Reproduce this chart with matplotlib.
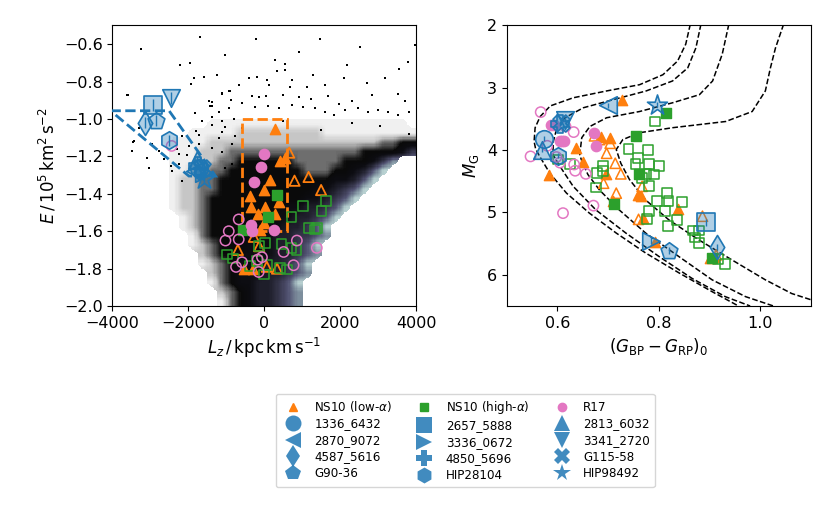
import numpy as np
import matplotlib
matplotlib.use("Agg")
import matplotlib.pyplot as plt
from matplotlib.colors import LinearSegmentedColormap, Normalize
from matplotlib.lines import Line2D
from matplotlib.patches import Polygon, Rectangle

# --- background density of the halo sample, read off as levels per cell ---
# columns: Lz centres -3875 .. 3875 (step 250), rows: E centres -0.525 .. -1.975 (step 0.05)
# '.' empty, 1-4 speckle (sparse -> dense black), 5-9,a bone shades
dens_rows = [
    "........|........|........|........",
    "........|........|........|........",
    "........|........|........|........",
    "........|........|........|........",
    "........|........|........|........",
    "........|........|........|........",
    "........|........|........|........",
    "........|........|........|........",
    "........|........|........|........",
    "........|........|........|........",
    "........|..111111|11111111|1111111.",
    "........|11111222|22222211|11111111",
    "......11|11222222|22222222|22223344",
    "......11|12223333|33333333|33444457",
    "......11|12233444|44433333|444579..",
    "......11|22334444|44443334|4568a...",
    "......12|23344444|44444445|568a....",
    "......12|23344444|44444556|78a.....",
    "......12|23444444|44445567|8a......",
    "......12|23444444|44556678|a.......",
    ".......1|23444444|4556678a|........",
    ".......1|23444445|556678a.|........",
    "........|13444455|5667789.|........",
    "........|12344455|56678a..|........",
    "........|.2344555|566789..|........",
    "........|.1234555|6678a...|........",
    "........|..234555|66789...|........",
    "........|..134556|678a....|........",
    "........|...23456|6789....|........",
    "........|...13456|6789....|........",
]

# sparse halo stars above / left of the dense region
halo_lz = [-1709, -223, 1473, -3248, 2505, 3950, -1027, 896, 267, -2216, -1972, 546, 2173,
           3764, 319, 546, -188, 1281, 3536, -1867, -1587, -1237, -398, 57, 721, 2103, 2697,
           3169, -1937, -678, 127, 669, 1123, 1596, -922, -1115, -3580, -1377, -870, -1430,
           -328, -153, 39, 476, 896, 1228, 1683, 1963, 2295, 2820, 3519, 3694, -1832, -1185,
           -940, -590, -258, 92, 389, 721, 1018, 1333, 1596, 1840, 2120, 2470, 2732, 2994,
           3257, 3519, 3799, -3458, -1377, -1115, -1727, -590, -2300, -2050, -3300, 2300,
           3050, 3800, 1500, -800, 500,
           -3607, -1945, -1465, -1377, -1115, -896, -1639, -1377, -1115, -1027, -1814, -2164,
           -2951, -2776, -2251, -1989, -1727, -1377, -1115, -853, -2645, -2470, -2251, -3432,
           -3475, -3082, -2426, -2164, -1027, -853, -1202, -765, -3038]
halo_e = [-0.563, -0.573, -0.573, -0.627, -0.613, -0.606, -0.659, -0.641, -0.686, -0.713,
          -0.699, -0.704, -0.713, -0.695, -0.741, -0.738, -0.774, -0.766, -0.734, -0.781,
          -0.774, -0.766, -0.781, -0.791, -0.791, -0.781, -0.806, -0.781, -0.813, -0.820,
          -0.817, -0.827, -0.831, -0.820, -0.852, -0.863, -0.870, -0.910, -0.899, -0.931,
          -0.877, -0.881, -0.877, -0.870, -0.884, -0.892, -0.877, -0.920, -0.902, -0.874,
          -0.867, -0.906, -0.967, -0.963, -0.942, -0.917, -0.935, -0.931, -0.942, -0.924,
          -0.935, -0.942, -0.960, -0.977, -0.952, -0.942, -0.963, -0.952, -0.960, -0.977,
          -0.963, -1.121, -1.031, -1.067, -1.085, -1.049, -1.16, -1.19, -1.05, -1.02,
          -1.04, -1.08, -1.06, -1.00, -1.01,
          -0.870, -0.813, -0.902, -0.929, -0.867, -0.849, -1.010, -0.992, -1.010, -1.045,
          -1.063, -1.090, -1.135, -1.171, -1.188, -1.144, -1.135, -1.153, -1.179, -1.135,
          -1.215, -1.251, -1.242, -1.117, -1.170, -1.206, -1.278, -1.332, -1.260, -1.242,
          -1.099, -1.090, -1.260]

# NS10 low-alpha
low_fill_lz = [275, 415, 546, 153, -22, -372, -345, 22, 372, -179, 284, -22, -109, -540, -300]
low_fill_e = [-1.054, -1.224, -1.210, -1.328, -1.381, -1.412, -1.471, -1.471, -1.442, -1.510,
              -1.510, -1.555, -1.591, -1.800, -1.800]
low_open_lz = [650, 790, 1160, 1490, -280, -700, -140, 330, 60]
low_open_e = [-1.18, -1.33, -1.31, -1.38, -1.63, -1.70, -1.68, -1.80, -1.79]
# NS10 high-alpha
high_fill_lz = [319, 100, -555]
high_fill_e = [-1.407, -1.523, -1.591]
high_open_lz = [1018, 712, 1613, 1499, 1167, 1324, 1377, 13, -153, 450, 712, 843, -993, -818,
                -206, 57, 406, -14, -372, 590]
high_open_e = [-1.466, -1.523, -1.439, -1.493, -1.585, -1.591, -1.582, -1.662, -1.680, -1.668,
               -1.689, -1.700, -1.725, -1.746, -1.761, -1.779, -1.797, -1.832, -1.788, -1.805]
# R17
r17_fill_lz = [-22, -83, -284, -345, -328, 240]
r17_fill_e = [-1.189, -1.256, -1.335, -1.568, -1.600, -1.591]
r17_open_lz = [-678, -940, -1027, -678, 852, 503, 1377, -590, -748, -179, -66, -153, 765, -2444]
r17_open_e = [-1.537, -1.600, -1.650, -1.644, -1.650, -1.711, -1.689, -1.766, -1.791, -1.752,
              -1.739, -1.818, -1.782, -1.144]

# colour-magnitude diagram
low_fill_bprp = [0.727, 0.637, 0.650, 0.584, 0.686, 0.703, 0.696, 0.709, 0.758, 0.765, 0.768,
                 0.838, 0.793, 0.900, 0.909]
low_fill_mg = [3.20, 3.97, 4.19, 4.40, 3.79, 3.80, 4.39, 4.82, 4.72, 4.74, 5.09, 4.95, 5.48,
               5.73, 5.71]
low_open_bprp = [0.673, 0.683, 0.704, 0.697, 0.714, 0.725, 0.691, 0.716, 0.767, 0.760, 0.886,
                 0.913]
low_open_mg = [3.77, 3.83, 3.89, 4.05, 4.21, 4.38, 4.53, 4.69, 4.58, 5.11, 5.06, 5.68]
high_fill_bprp = [0.815, 0.754, 0.761, 0.712, 0.905]
high_fill_mg = [3.41, 3.78, 4.38, 4.87, 5.73]
high_open_bprp = [0.793, 0.740, 0.778, 0.759, 0.780, 0.801, 0.791, 0.775, 0.767, 0.780, 0.754,
                  0.678, 0.676, 0.690, 0.690, 0.624, 0.601, 0.816, 0.819, 0.797, 0.845, 0.781,
                  0.812, 0.777, 0.818, 0.835, 0.867, 0.879, 0.871, 0.879, 0.916, 0.930]
high_open_mg = [3.54, 3.98, 4.00, 4.13, 4.22, 4.25, 4.39, 4.38, 4.45, 4.58, 4.22, 4.37, 4.60,
                4.26, 4.34, 4.22, 4.15, 4.69, 4.81, 4.81, 4.83, 4.98, 4.97, 5.10, 5.22, 5.12,
                5.29, 5.29, 5.40, 5.49, 5.75, 5.83]
r17_fill_bprp = [0.588, 0.593, 0.605, 0.609, 0.612, 0.672, 0.676]
r17_fill_mg = [3.59, 3.59, 3.85, 3.85, 3.85, 3.73, 3.93]
r17_open_bprp = [0.567, 0.580, 0.547, 0.598, 0.605, 0.633, 0.635, 0.656, 0.632, 0.616, 0.671,
                 0.611]
r17_open_mg = [3.39, 3.93, 4.10, 4.11, 4.20, 4.23, 4.33, 4.38, 3.71, 3.62, 4.89, 5.01]

# individual stars
star_names = ['1336_6432', '2657_5888', '2813_6032', '2870_9072', '3336_0672', '3341_2720',
              '4587_5616', '4850_5696', 'G115-58', 'G90-36', 'HIP28104', 'HIP98492']
star_lz = [-1720, -2930, -1770, -1830, -1600, -2470, -3140, -1740, -1650, -2860, -2500, -1600]
star_e = [-1.26, -0.925, -1.22, -1.28, -1.29, -0.888, -1.02, -1.25, -1.26, -1.01, -1.115, -1.32]
star_bprp = [0.573, 0.892, 0.569, 0.699, 0.785, 0.614, 0.915, 0.606, 0.608, 0.820, 0.601, 0.797]
star_mg = [3.82, 5.16, 3.99, 3.28, 5.45, 3.51, 5.55, 3.58, 3.56, 5.61, 4.09, 3.27]
star_e_err = [0.02, 0.03, 0.02, 0.02, 0.02, 0.03, 0.03, 0.02, 0.02, 0.03, 0.03, 0.02]
star_mg_err = [0.04, 0.05, 0.04, 0.04, 0.05, 0.04, 0.05, 0.04, 0.04, 0.05, 0.04, 0.04]

# isochrones
iso1_bprp = [0.862, 0.853, 0.837, 0.808, 0.762, 0.697, 0.631, 0.586, 0.566, 0.556, 0.554, 0.557,
             0.565, 0.585, 0.618, 0.663, 0.716, 0.774, 0.840, 0.905, 0.957]
iso1_mg = [1.98, 2.30, 2.57, 2.79, 2.95, 3.05, 3.16, 3.29, 3.46, 3.64, 3.86, 3.98, 4.10, 4.37,
           4.69, 5.01, 5.33, 5.65, 5.97, 6.27, 6.50]
iso2_bprp = [0.883, 0.873, 0.857, 0.827, 0.775, 0.710, 0.651, 0.615, 0.599, 0.592, 0.591, 0.605,
             0.631, 0.676, 0.735, 0.801, 0.866, 0.931, 0.980]
iso2_mg = [1.98, 2.36, 2.68, 2.89, 3.05, 3.19, 3.32, 3.48, 3.64, 3.86, 4.07, 4.26, 4.58, 4.96,
           5.33, 5.71, 6.06, 6.35, 6.50]
iso3_bprp = [0.938, 0.925, 0.906, 0.880, 0.827, 0.762, 0.697, 0.664, 0.648, 0.644, 0.647, 0.660,
             0.683, 0.722, 0.774, 0.840, 0.905, 0.971, 1.026]
iso3_mg = [1.98, 2.46, 2.89, 3.11, 3.24, 3.38, 3.48, 3.62, 3.80, 4.07, 4.15, 4.39, 4.64, 4.96,
           5.33, 5.71, 6.08, 6.35, 6.50]
iso4_bprp = [1.046, 1.030, 1.020, 1.010, 0.984, 0.932, 0.827, 0.762, 0.729, 0.716, 0.725, 0.742,
             0.774, 0.820, 0.879, 0.944, 1.010, 1.062, 1.100]
iso4_mg = [1.98, 2.36, 2.68, 3.05, 3.38, 3.54, 3.64, 3.72, 3.83, 3.99, 4.21, 4.47, 4.80, 5.12,
           5.44, 5.76, 6.08, 6.30, 6.40]

# selection boxes
halo_poly_lz = [-4050, -2510, -1290, -1990]
halo_poly_e = [-0.956, -0.956, -1.305, -1.305]
box_lz = [-600, 600]
box_e = [-1.6, -1.0]

star_markers = ['o', 's', '^', '<', '>', 'v', 'd', 'P', 'X', 'p', 'h', '*']
star_sizes = [160, 160, 160, 160, 160, 160, 150, 150, 150, 160, 160, 230]

c_blue, c_orange, c_green, c_pink = 'tab:blue', 'tab:orange', 'tab:green', '#e377c2'
light_blue = (0.12, 0.47, 0.71, 0.35)


def upsample(a, f):
    n0, n1 = a.shape
    yy = np.clip((np.arange(n0 * f) + 0.5) / f - 0.5, 0, n0 - 1)
    xx = np.clip((np.arange(n1 * f) + 0.5) / f - 0.5, 0, n1 - 1)
    tmp = np.array([np.interp(xx, np.arange(n1), row) for row in a])
    return np.array([np.interp(yy, np.arange(n0), col) for col in tmp.T]).T


fig = plt.figure(figsize=(8.3, 5.19), dpi=100)
ax1 = fig.add_axes([0.1355, 0.4104, 0.3663, 0.5405])
ax2 = fig.add_axes([0.6105, 0.4104, 0.3666, 0.5405])

# --- left: E-Lz ---
lev = np.array([[10 if ch == 'a' else (0 if ch == '.' else int(ch))
                 for ch in row.replace('|', '')] for row in dens_rows], dtype=float)
occ = (lev > 0).astype(float)
# extend edge values into empty cells so the edge keeps its shade
filled = lev.copy()
for r in range(lev.shape[0]):
    nz = np.nonzero(lev[r])[0]
    if len(nz):
        filled[r, :nz[0]] = lev[r, nz[0]]
        filled[r, nz[-1] + 1:] = lev[r, nz[-1]]
full_rows = [r for r in range(lev.shape[0]) if occ[r].any()]
for r in range(lev.shape[0]):
    if not occ[r].any():
        filled[r] = filled[min(full_rows, key=lambda k: abs(k - r))]
fine = upsample(filled, 8)
fine_occ = upsample(occ, 8)
img = np.ma.masked_where(fine_occ < 0.5, fine)

bone = plt.get_cmap('bone')
lev_colors = ['#f0f0f0', '#c6c6c6', '#6c6c6c', '#0a0a0a',
              bone(0.06), bone(0.14), bone(0.24), bone(0.37), bone(0.56), bone(0.80)]
dens_cmap = LinearSegmentedColormap.from_list('dens', list(zip(np.linspace(0, 1, 10), lev_colors)))
dens_cmap.set_bad('white')
ax1.imshow(img, cmap=dens_cmap, norm=Normalize(1, 10), extent=[-4000, 4000, -2.0, -0.5],
           origin='upper', aspect='auto', interpolation='nearest', zorder=0)
ax1.scatter(halo_lz, halo_e, s=1.6, c='black', marker='s', linewidths=0, zorder=1)

ax1.add_patch(Polygon(list(zip(halo_poly_lz, halo_poly_e)), closed=True, fill=False,
                      edgecolor=c_blue, ls='--', lw=2, zorder=3))
ax1.add_patch(Rectangle((box_lz[0], box_e[0]), box_lz[1] - box_lz[0], box_e[1] - box_e[0],
                        fill=False, edgecolor=c_orange, ls='--', lw=2, zorder=3))

ax1.scatter(low_fill_lz, low_fill_e, s=55, marker='^', color=c_orange, zorder=4)
ax1.scatter(low_open_lz, low_open_e, s=55, marker='^', facecolors='none', edgecolors=c_orange,
            linewidths=1.3, zorder=4)
ax1.scatter(high_fill_lz, high_fill_e, s=50, marker='s', color=c_green, zorder=4)
ax1.scatter(high_open_lz, high_open_e, s=50, marker='s', facecolors='none', edgecolors=c_green,
            linewidths=1.1, zorder=4)
ax1.scatter(r17_fill_lz, r17_fill_e, s=55, marker='o', color=c_pink, zorder=4)
ax1.scatter(r17_open_lz, r17_open_e, s=55, marker='o', facecolors='none', edgecolors=c_pink,
            linewidths=1.1, zorder=4)

for i in range(len(star_names)):
    ax1.scatter(star_lz[i], star_e[i], s=star_sizes[i], marker=star_markers[i],
                facecolors=[light_blue], edgecolors=c_blue, linewidths=1.2, zorder=5)
    ax1.errorbar(star_lz[i], star_e[i], yerr=star_e_err[i], color=c_blue, lw=1, zorder=6)
    ax2.scatter(star_bprp[i], star_mg[i], s=star_sizes[i], marker=star_markers[i],
                facecolors=[light_blue], edgecolors=c_blue, linewidths=1.2, zorder=5)
    ax2.errorbar(star_bprp[i], star_mg[i], yerr=star_mg_err[i], color=c_blue, lw=1, zorder=6)

ax1.set_xlim(-4000, 4000)
ax1.set_ylim(-2.0, -0.5)
ax1.set_xlabel(r'$L_z\,/\,\mathrm{kpc\,km\,s^{-1}}$', fontsize=12)
ax1.set_ylabel(r'$E\,/\,10^5\,\mathrm{km}^2\,\mathrm{s}^{-2}$', fontsize=12)

# --- right: CMD ---
for xs, ys in [(iso1_bprp, iso1_mg), (iso2_bprp, iso2_mg), (iso3_bprp, iso3_mg), (iso4_bprp, iso4_mg)]:
    ax2.plot(xs, ys, 'k--', lw=1.1, zorder=2)

ax2.scatter(low_fill_bprp, low_fill_mg, s=55, marker='^', color=c_orange, zorder=4)
ax2.scatter(low_open_bprp, low_open_mg, s=55, marker='^', facecolors='none', edgecolors=c_orange,
            linewidths=1.1, zorder=4)
ax2.scatter(high_fill_bprp, high_fill_mg, s=50, marker='s', color=c_green, zorder=4)
ax2.scatter(high_open_bprp, high_open_mg, s=50, marker='s', facecolors='none', edgecolors=c_green,
            linewidths=1.1, zorder=4)
ax2.scatter(r17_fill_bprp, r17_fill_mg, s=55, marker='o', color=c_pink, zorder=4)
ax2.scatter(r17_open_bprp, r17_open_mg, s=55, marker='o', facecolors='none', edgecolors=c_pink,
            linewidths=1.1, zorder=4)

ax2.set_xlim(0.5, 1.1)
ax2.set_ylim(6.5, 2.0)
ax2.set_xticks([0.6, 0.8, 1.0])
ax2.set_xlabel(r'$(G_\mathrm{BP}-G_\mathrm{RP})_0$', fontsize=12)
ax2.set_ylabel(r'$M_\mathrm{G}$', fontsize=12)

for ax in (ax1, ax2):
    ax.tick_params(labelsize=11.5)

# --- legend (row-wise order) ---
h_low = Line2D([], [], ls='none', marker='^', color=c_orange, markersize=6)
h_high = Line2D([], [], ls='none', marker='s', color=c_green, markersize=5.5)
h_r17 = Line2D([], [], ls='none', marker='o', color=c_pink, markersize=6)
star_handles = [Line2D([], [], ls='none', marker=m, markersize=11.5 if m != '*' else 13,
                       color=c_blue, alpha=0.85, markeredgewidth=0) for m in star_markers]
handles = [h_low, h_high, h_r17] + star_handles
labels = [r'NS10 (low-$\alpha$)', r'NS10 (high-$\alpha$)', 'R17'] + star_names
rows = [list(zip(handles[i:i + 3], labels[i:i + 3])) for i in range(0, 15, 3)]
ordered = [rows[r][c] for c in range(3) for r in range(5)]
fig.legend([h for h, _ in ordered], [l for _, l in ordered], ncol=3, loc='upper left',
           bbox_to_anchor=(276 / 830, 1 - 394 / 519), borderaxespad=0, fontsize=8.6,
           labelspacing=0.3, columnspacing=1.7)

fig.savefig('out.png', dpi=100)
